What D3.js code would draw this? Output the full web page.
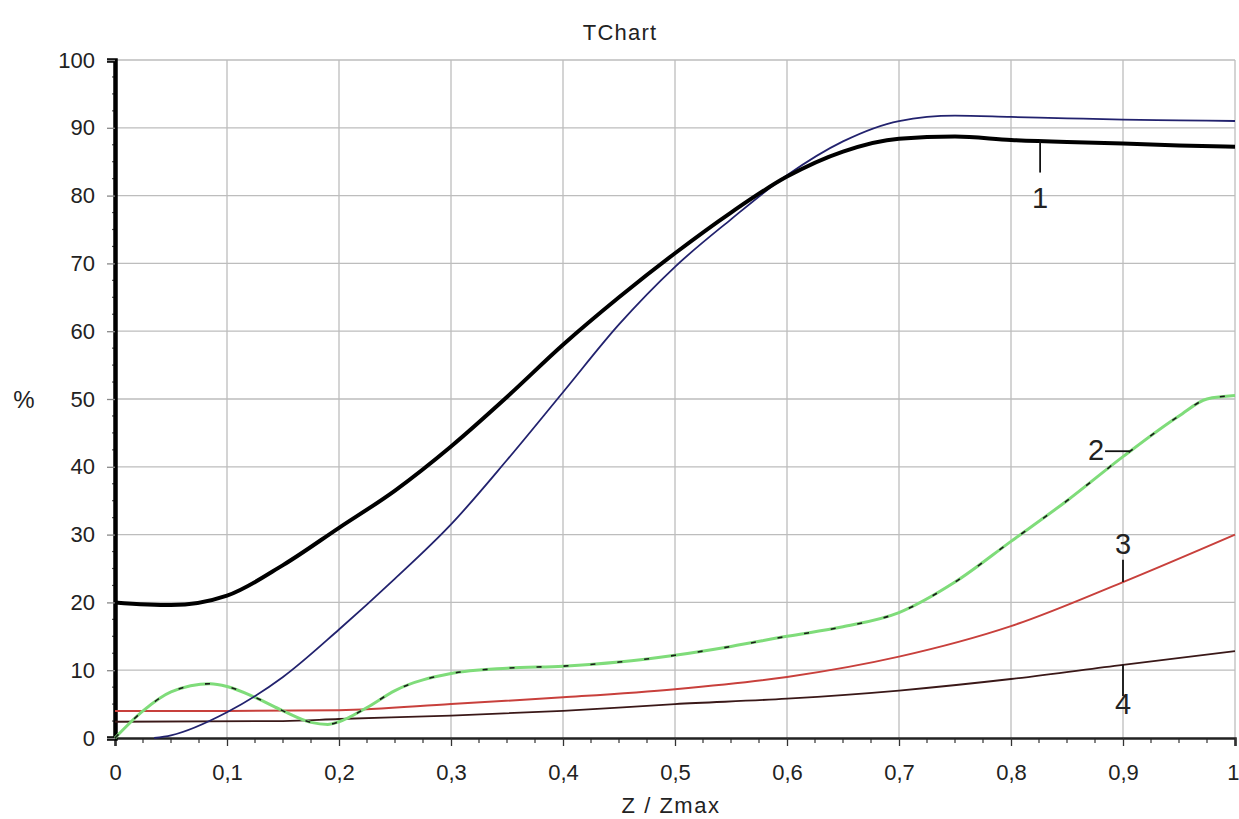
<!DOCTYPE html>
<html>
<head>
<meta charset="utf-8">
<script src="https://cdn.jsdelivr.net/npm/d3@7"></script>
<style>
  body { margin: 0; background: #fff; }
  text { font-family: Arial, "Liberation Sans", sans-serif; fill: #222; }
</style>
</head>
<body>
<svg></svg>
<script>
// values
var xTicks = [0, 0.1, 0.2, 0.3, 0.4, 0.5, 0.6, 0.7, 0.8, 0.9, 1];
var xTickLabels = ["0", "0,1", "0,2", "0,3", "0,4", "0,5", "0,6", "0,7", "0,8", "0,9", "1"];
var yTicks = [0, 10, 20, 30, 40, 50, 60, 70, 80, 90, 100];

var blackX = [0, 0.05, 0.1, 0.15, 0.2, 0.25, 0.3, 0.35, 0.4, 0.45, 0.5, 0.55, 0.6, 0.65, 0.7, 0.75, 0.8, 0.85, 0.9, 0.95, 1];
var blackY = [20, 19.6, 21, 25.5, 31, 36.5, 43, 50.3, 58, 65, 71.5, 77.5, 82.8, 86.5, 88.4, 88.7, 88.2, 87.9, 87.7, 87.4, 87.2];

var blueX = [0.035, 0.05, 0.1, 0.15, 0.2, 0.25, 0.3, 0.35, 0.4, 0.45, 0.5, 0.55, 0.6, 0.65, 0.7, 0.75, 0.8, 0.85, 0.9, 0.95, 1];
var blueY = [0, 0.4, 3.8, 9, 16, 23.5, 31.5, 41, 51, 61, 69.5, 76.5, 83, 88, 91, 91.8, 91.6, 91.4, 91.2, 91.1, 91];

var greenX = [0, 0.025, 0.05, 0.085, 0.1, 0.125, 0.15, 0.175, 0.19, 0.2, 0.225, 0.25, 0.3, 0.35, 0.4, 0.45, 0.5, 0.55, 0.6, 0.65, 0.7, 0.75, 0.8, 0.85, 0.9, 0.95, 0.975, 1];
var greenY = [0, 4, 6.8, 8, 7.6, 6, 4, 2.3, 2, 2.4, 4.5, 7, 9.5, 10.3, 10.6, 11.2, 12.2, 13.5, 15, 16.4, 18.5, 23, 29, 35, 41.5, 47.5, 50, 50.5];

var redX = [0, 0.1, 0.2, 0.3, 0.4, 0.5, 0.6, 0.7, 0.8, 0.9, 1];
var redY = [4, 4, 4.1, 5, 6, 7.2, 9, 12, 16.5, 23, 30];

var darkX = [0, 0.15, 0.2, 0.3, 0.4, 0.5, 0.6, 0.7, 0.8, 0.9, 1];
var darkY = [2.4, 2.5, 2.8, 3.3, 4, 5, 5.8, 7, 8.7, 10.8, 12.8];

// curve labels: text position and leader line, in data units
var labelText = ["1", "2", "3", "4"];
var labelPos = [[0.826, 78.2], [0.876, 41], [0.9, 27.2], [0.9, 3.6]];
var leaders = [[[0.826, 88], [0.826, 83.4]], [[0.884, 42.3], [0.906, 42.3]], [[0.9, 26.3], [0.9, 23]], [[0.9, 10.8], [0.9, 6.2]]];

var margin = {top: 60, right: 4, bottom: 81, left: 115},
    width = 1239 - margin.left - margin.right,
    height = 819 - margin.top - margin.bottom;

var svg = d3.select("svg")
      .attr("width", 1239)
      .attr("height", 819),
    g = svg.append("g").attr("transform", "translate(" + margin.left + "," + margin.top + ")");

var x = d3.scaleLinear().domain([0, 1]).range([0, width]);
var y = d3.scaleLinear().domain([0, 100]).range([height, 0]);

// grid
g.append("g").selectAll("line")
    .data(xTicks.slice(1))
    .enter().append("line")
      .attr("x1", function(d) { return x(d); })
      .attr("x2", function(d) { return x(d); })
      .attr("y1", 0).attr("y2", height)
      .attr("stroke", "#bdbdbd").attr("stroke-width", 1.3);

g.append("g").selectAll("line")
    .data(yTicks.slice(1))
    .enter().append("line")
      .attr("y1", function(d) { return y(d); })
      .attr("y2", function(d) { return y(d); })
      .attr("x1", 0).attr("x2", width)
      .attr("stroke", "#bdbdbd").attr("stroke-width", 1.3);

// minor ticks
var minorX = d3.range(0, 40).map(function(i) { return i * 0.025; }).filter(function(d, i) { return i % 4 != 0; });
var minorY = d3.range(0, 40).map(function(i) { return i * 2.5; }).filter(function(d, i) { return i % 4 != 0; });

g.append("g").selectAll("line")
    .data(minorX)
    .enter().append("line")
      .attr("x1", function(d) { return x(d); })
      .attr("x2", function(d) { return x(d); })
      .attr("y1", height).attr("y2", height + 5)
      .attr("stroke", "#333").attr("stroke-width", 1.2);

g.append("g").selectAll("line")
    .data(minorY)
    .enter().append("line")
      .attr("y1", function(d) { return y(d); })
      .attr("y2", function(d) { return y(d); })
      .attr("x1", -3).attr("x2", 2)
      .attr("stroke", "#555").attr("stroke-width", 1.2);

// X Axis
var xAxis = g.append("g")
    .attr("transform", "translate(0," + height + ")")
    .call(d3.axisBottom(x).tickValues(xTicks).tickSize(8).tickPadding(18)
      .tickFormat(function(d, i) { return xTickLabels[i]; }));
xAxis.select(".domain").attr("stroke", "#222").attr("stroke-width", 2.5);
xAxis.selectAll(".tick line").attr("stroke", "#333").attr("stroke-width", 1.3);
xAxis.selectAll("text").attr("font-size", 22).attr("fill", "#222");
xAxis.selectAll(".tick:last-of-type text").attr("text-anchor", "end").attr("x", 4);

// Y Axis
var yAxis = g.append("g")
    .call(d3.axisLeft(y).tickValues(yTicks).tickSize(8).tickPadding(12));
yAxis.select(".domain").attr("stroke", "#000").attr("stroke-width", 4.5);
yAxis.selectAll(".tick line").attr("stroke", "#888").attr("stroke-width", 1.3);
yAxis.selectAll("text").attr("font-size", 22).attr("fill", "#222");

var line = d3.line()
    .x(function(d) { return x(d[0]); })
    .y(function(d) { return y(d[1]); })
    .curve(d3.curveMonotoneX);

function pts(xs, ys) { return xs.map(function(v, i) { return [v, ys[i]]; }); }

g.append("path").datum(pts(darkX, darkY))
    .attr("d", line).attr("fill", "none")
    .attr("stroke", "#3a1818").attr("stroke-width", 1.8);

g.append("path").datum(pts(redX, redY))
    .attr("d", line).attr("fill", "none")
    .attr("stroke", "#c8403c").attr("stroke-width", 2);

g.append("path").datum(pts(greenX, greenY))
    .attr("d", line).attr("fill", "none")
    .attr("stroke", "#7fdc7a").attr("stroke-width", 3);

g.append("path").datum(pts(greenX, greenY))
    .attr("d", line).attr("fill", "none")
    .attr("stroke", "#1a1a1a").attr("stroke-width", 1.6)
    .attr("stroke-dasharray", "5,22");

g.append("path").datum(pts(blueX, blueY))
    .attr("d", line).attr("fill", "none")
    .attr("stroke", "#22226e").attr("stroke-width", 1.8);

g.append("path").datum(pts(blackX, blackY))
    .attr("d", line).attr("fill", "none")
    .attr("stroke", "#000").attr("stroke-width", 4);

// curve labels
g.append("g").selectAll("line")
    .data(leaders)
    .enter().append("line")
      .attr("x1", function(d) { return x(d[0][0]); })
      .attr("y1", function(d) { return y(d[0][1]); })
      .attr("x2", function(d) { return x(d[1][0]); })
      .attr("y2", function(d) { return y(d[1][1]); })
      .attr("stroke", "#111").attr("stroke-width", 1.8);

g.append("g").selectAll("text")
    .data(labelText)
    .enter().append("text")
      .attr("x", function(d, i) { return x(labelPos[i][0]); })
      .attr("y", function(d, i) { return y(labelPos[i][1]); })
      .attr("text-anchor", "middle")
      .attr("font-size", 29)
      .text(function(d) { return d; });

// titles
svg.append("text")
    .attr("x", 620).attr("y", 40)
    .attr("text-anchor", "middle")
    .attr("font-size", 22)
    .attr("letter-spacing", 1.2)
    .text("TChart");

svg.append("text")
    .attr("x", 671).attr("y", 813)
    .attr("text-anchor", "middle")
    .attr("font-size", 22)
    .attr("letter-spacing", 1.5)
    .text("Z / Zmax");

svg.append("text")
    .attr("x", 24).attr("y", 408)
    .attr("text-anchor", "middle")
    .attr("font-size", 24)
    .text("%");
</script>
</body>
</html>
